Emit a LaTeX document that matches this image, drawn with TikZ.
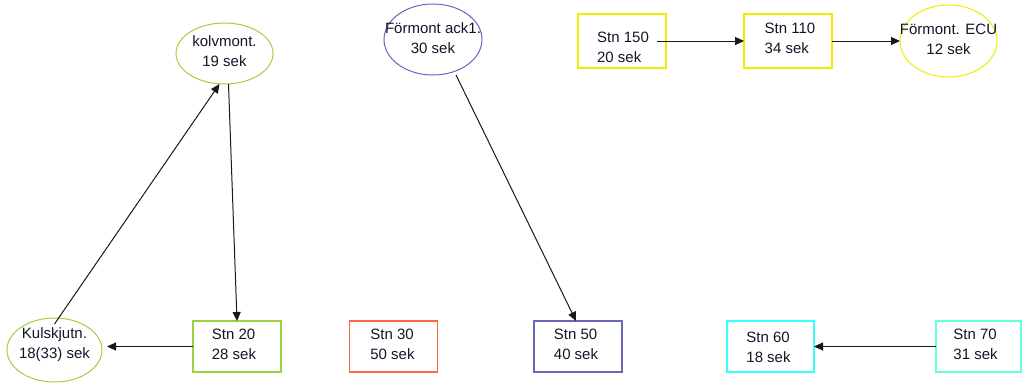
\documentclass[tikz,border=0pt]{standalone}
\usepackage{fontspec}
\setmainfont{Liberation Sans}
\usetikzlibrary{shapes.geometric,arrows.meta,calc}
\definecolor{cgreen}{RGB}{160,208,64}
\definecolor{cblue}{RGB}{102,102,187}
\definecolor{cred}{RGB}{255,102,72}
\definecolor{cyel}{RGB}{240,235,0}
\definecolor{ccyan}{RGB}{51,255,255}
\definecolor{cmint}{RGB}{102,255,221}
\definecolor{ctext}{RGB}{20,20,40}
\tikzset{
  txt/.style={font=\fontsize{15}{20}\selectfont, align=left, text=ctext, inner sep=0pt},
  ctxt/.style={font=\fontsize{15}{20}\selectfont, align=center, text=ctext, inner sep=0pt},
  stbox/.style={draw=#1, line width=1.2pt, rectangle, inner sep=0pt, outer sep=0pt, minimum width=88pt, minimum height=51pt},
  ell/.style={draw=#1, line width=1pt, ellipse, inner sep=0pt, outer sep=0pt},
  conn/.style={draw=black!90, line width=1pt, -{Triangle[length=9pt,width=8pt]}}
}
\begin{document}
\begin{tikzpicture}[x=1pt,y=-1pt]
\useasboundingbox (0,0) rectangle (1022,384);
% ellipses
\node[ell=cgreen, minimum width=97pt, minimum height=61pt, label={[ctxt,yshift=2pt]center:kolvmont.\\19 sek}] (kolv) at (224.5,53.5) {};
\node[ell=cgreen, minimum width=95pt, minimum height=64pt, label={[ctxt,yshift=5pt]center:Kulskjutn.\\18(33) sek}] (kul) at (54.5,350) {};
\node[ell=cblue, minimum width=98pt, minimum height=71pt, label={[ctxt,yshift=1pt]center:Förmont ack1.\\30 sek}] (ack) at (433,39.5) {};
\node[ell=cyel, minimum width=97pt, minimum height=72pt, label={[ctxt,yshift=2pt]center:Förmont. ECU\\12 sek}] (ecu) at (948.5,41) {};
% boxes
\node[stbox=cgreen, label={[txt,yshift=2pt,xshift=-3pt]center:Stn 20\\28 sek}] (s20) at (237,346.5) {};
\node[stbox=cred, label={[txt,yshift=2pt,xshift=-1pt]center:Stn 30\\50 sek}] (s30) at (393.5,346.5) {};
\node[stbox=cblue, label={[txt,yshift=2pt,xshift=-2pt]center:Stn 50\\40 sek}] (s50) at (578,346.5) {};
\node[stbox=ccyan, minimum width=87pt, label={[txt,yshift=-1pt,xshift=-2pt]center:Stn 60\\18 sek}] (s60) at (770.5,346.5) {};
\node[stbox=cmint, minimum width=85pt, label={[txt,yshift=2pt,xshift=-3pt]center:Stn 70\\31 sek}] (s70) at (978.5,346.5) {};
\node[stbox=cyel, minimum height=54pt, label={[txt,yshift=-6pt,xshift=1pt]center:Stn 150\\20 sek}] (s150) at (622,41) {};
\node[stbox=cyel, minimum height=54pt, label={[txt,yshift=3pt,xshift=2pt]center:Stn 110\\34 sek}] (s110) at (788,41) {};
% connectors
\draw[conn] ([xshift=-9pt]s150.east) -- (s110.west);
\draw[conn] (s110.east) -- (ecu.west);
\draw[conn] ([xshift=4pt]kolv.south) -- (s20.north);
\draw[conn] ([yshift=-6pt]kul.north) -- ([xshift=-5pt]kolv.south);
\draw[conn] ([xshift=23pt]ack.south) -- ([xshift=-2pt]s50.north);
\draw[conn] (s20.west) -- ($(s20.west -| kul.east)+(5,0)$);
\draw[conn] (s70.west) -- (s60.east);
\end{tikzpicture}
\end{document}
